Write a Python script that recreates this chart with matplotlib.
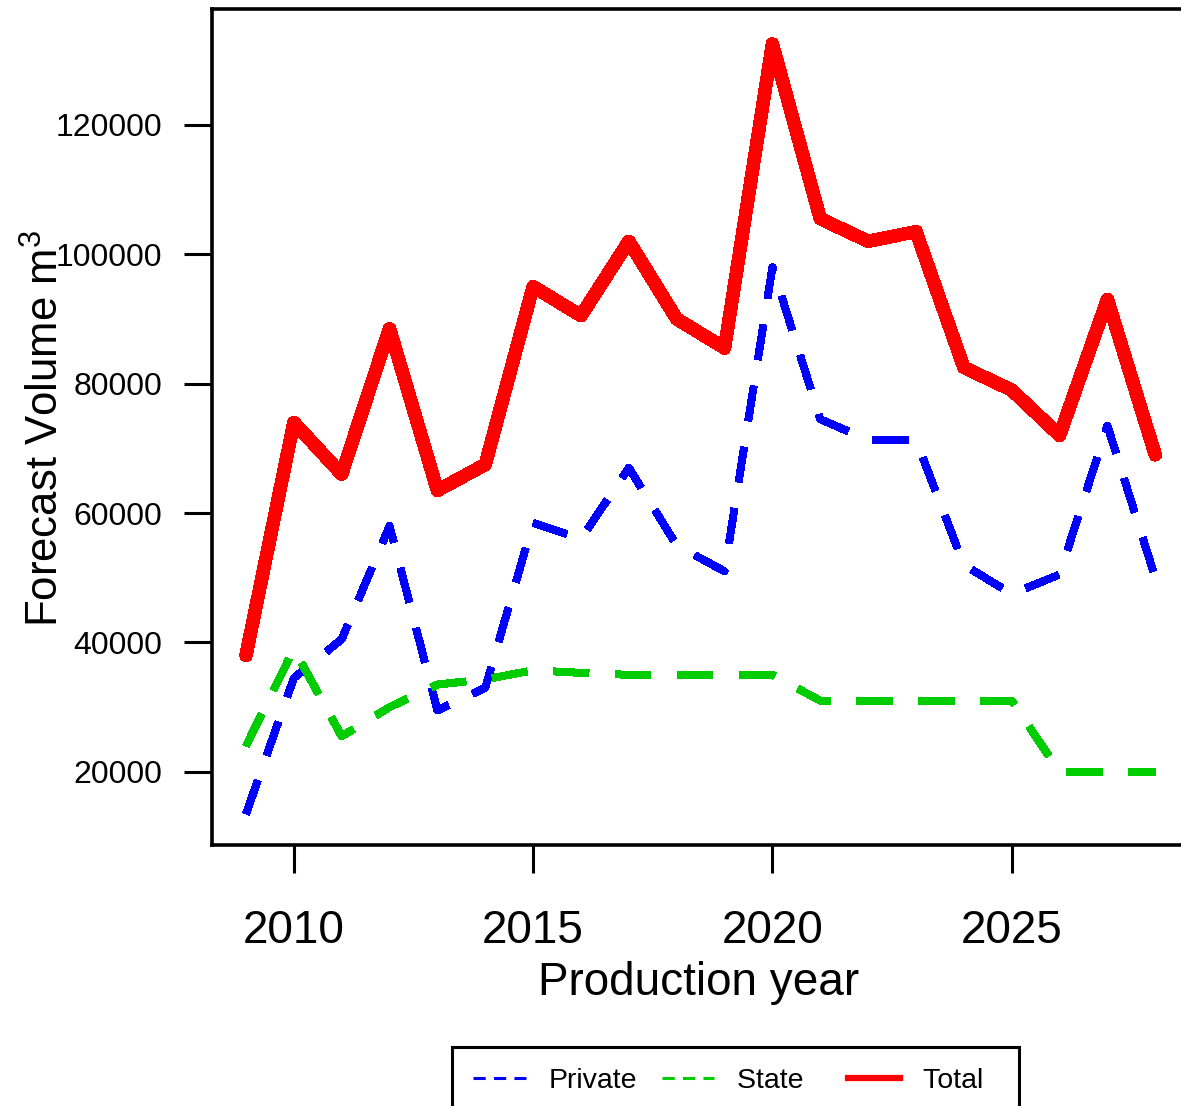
import matplotlib
matplotlib.use("Agg")
import matplotlib.pyplot as plt
from matplotlib.lines import Line2D

plt.rcParams['font.family'] = ['Liberation Sans', 'DejaVu Sans']
plt.rcParams['mathtext.fontset'] = 'custom'
plt.rcParams['mathtext.rm'] = 'Liberation Sans'
plt.rcParams['mathtext.it'] = 'Liberation Sans'

# ---- data ----
years = [2009, 2010, 2011, 2012, 2013, 2014, 2015, 2016, 2017, 2018,
         2019, 2020, 2021, 2022, 2023, 2024, 2025, 2026, 2027, 2028]
total = [38000, 74000, 66000, 88500, 63500, 67500, 95000, 90500, 102000, 90000,
         85500, 132500, 105500, 102000, 103500, 82500, 79000, 72000, 93000, 69000]
private = [13500, 34500, 40500, 58000, 29500, 33000, 58500, 56000, 67000, 55000,
           51000, 98000, 74500, 71300, 71300, 52000, 47500, 50500, 73500, 50000]
state = [24000, 39000, 25500, 30000, 33500, 34300, 35700, 35300, 35000, 35000,
         35000, 35000, 31000, 31000, 31000, 31000, 31000, 20000, 20000, 20000]

xticks = [2010, 2015, 2020, 2025]
xtick_labels = ["2010", "2015", "2020", "2025"]
yticks = [20000, 40000, 60000, 80000, 100000, 120000]
ytick_labels = ["20000", "40000", "60000", "80000", "100000", "120000"]
series_labels = ["Private", "State", "Total"]

W, H = 1181, 1106
fig = plt.figure(figsize=(W / 100, H / 100), dpi=100)
ax = fig.add_axes([212 / W, 261 / H, 980.6 / W, 836 / H])

blue = "#0000FF"
green = "#00CD00"
red = "#FF0000"

ax.plot(years, private, color=blue, lw=5.2, linestyle=(0, (4.9, 3.7)),
        dash_capstyle='butt', antialiased=False)
ax.plot(years, state, color=green, lw=5.2, linestyle=(0, (4.9, 3.7)),
        dash_capstyle='butt', antialiased=False)
ax.plot(years, total, color=red, lw=9.0, solid_joinstyle='round',
        solid_capstyle='round', antialiased=False)

ax.set_xlim(2008.29, 2028.78)
ax.set_ylim(8700, 137900)

ax.set_xticks(xticks)
ax.set_xticklabels(xtick_labels, fontsize=33)
ax.set_yticks(yticks)
ax.set_yticklabels(ytick_labels, fontsize=23)
ax.tick_params(axis='both', direction='out', length=20, width=2.2, colors='black')
ax.tick_params(axis='x', pad=26)
ax.tick_params(axis='y', pad=16)
for sp in ax.spines.values():
    sp.set_linewidth(2.6)
    sp.set_color('black')

fig.text(699 / W, 1 - 995 / H, "Production year", fontsize=33,
         ha='center', va='baseline')
fig.text(46 / W, 1 - 428 / H, "Forecast Volume m$^3$", fontsize=31.5,
         rotation=90, ha='center', va='center')

handles = [
    Line2D([], [], color=blue, lw=2.2, linestyle=(0, (4, 2.7))),
    Line2D([], [], color=green, lw=2.2, linestyle=(0, (4, 2.7))),
    Line2D([], [], color=red, lw=4.5),
]
leg_labels = [series_labels[0], series_labels[1] + "\u2002\u2009", series_labels[2] + "\u2002"]
leg = fig.legend(handles, leg_labels, loc='upper left',
                 bbox_to_anchor=(452 / W, 1 - 1047 / H), ncol=3,
                 frameon=True, fancybox=False, edgecolor='black',
                 fontsize=20.5, handlelength=1.85, handletextpad=0.8,
                 columnspacing=0.85, borderpad=0.75, borderaxespad=0,
                 framealpha=1)
leg.get_frame().set_linewidth(2.2)

fig.savefig("out.png", dpi=100)
